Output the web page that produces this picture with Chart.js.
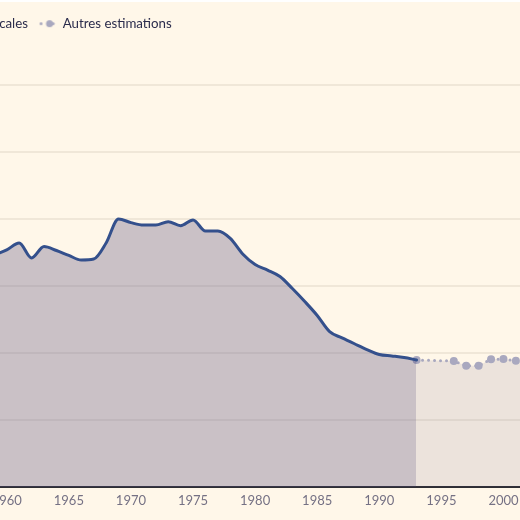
<!DOCTYPE html>
<html><head><meta charset="utf-8">
<script src="https://cdn.jsdelivr.net/npm/chart.js@4.4.1/dist/chart.umd.min.js"></script>
<style>
html,body{margin:0;padding:0;background:#fff;width:520px;height:520px;overflow:hidden}
#frame{position:absolute;left:0;top:2px;width:520px;height:518px;background:#fff7e9;overflow:hidden}
#wrap{position:absolute;top:0;height:518px}
</style></head><body>
<div id="frame"><div id="wrap"><canvas id="c"></canvas></div></div>
<script>
// ---- data ----
const YEARS_MAIN = [1959,1960,1961,1962,1963,1964,1965,1966,1967,1968,1969,1970,1971,1972,1973,1974,1975,1976,1977,1978,1979,1980,1981,1982,1983,1984,1985,1986,1987,1988,1989,1990,1991,1992,1993];
const SOURCES_FISCALES = [17.31,17.69,18.21,17.09,17.95,17.65,17.28,16.94,17.01,18.21,20.00,19.73,19.55,19.55,19.80,19.50,19.93,19.10,19.10,18.55,17.39,16.60,16.19,15.71,14.81,13.84,12.80,11.59,11.13,10.69,10.26,9.89,9.78,9.66,9.48];
const YEARS_OTHER = [1993,1994,1995,1996,1997,1998,1999,2000,2001,2002];
const AUTRES_ESTIMATIONS = [9.48,null,null,9.40,9.05,9.05,9.53,9.55,9.43,9.40];
const TICK_YEARS = [1960,1965,1970,1975,1980,1985,1990,1995,2000];
const Y_TICKS = [0,5,10,15,20,25,30];
const LABELS = ['Sources fiscales','Autres estimations'];

// ---- styling / layout ----
const FONT = 'Lato';
const LINE_BLUE = '#34508c';
const DOT = '#a9a8bf';

const mctx = document.createElement('canvas').getContext('2d');
mctx.font = '13.3px ' + FONT;
const tw1 = mctx.measureText(LABELS[0]).width;
const L = tw1 + 7;
const W = L + 560;
const wrap = document.getElementById('wrap');
wrap.style.left = (-L) + 'px';
wrap.style.width = W + 'px';

function mk(w,h,fn){const c=document.createElement('canvas');c.width=w;c.height=h;fn(c.getContext('2d'));return c;}
const icon1 = mk(18,9,g=>{g.strokeStyle=LINE_BLUE;g.lineWidth=3;g.lineCap='round';g.beginPath();g.moveTo(2,4.5);g.lineTo(16,4.5);g.stroke();});
const icon2 = mk(17,9,g=>{g.fillStyle=DOT;
  g.beginPath();g.arc(2.5,4.5,1.5,0,Math.PI*2);g.fill();
  g.beginPath();g.arc(11,4.5,3.5,0,Math.PI*2);g.fill();
  g.beginPath();g.arc(14.5,4.5,1.6,0,Math.PI*2);g.fill();});

const legendHeight = {
  id:'legendHeight',
  beforeLayout(chart){
    const lg = chart.legend;
    if(lg && !lg._patched){
      const f = lg.fit;
      lg.fit = function(){ f.call(this); this.height = 78; };
      lg._patched = true;
    }
  }
};

new Chart(document.getElementById('c'), {
  type:'line',
  data:{
    datasets:[
      {label:LABELS[0], data:YEARS_MAIN.map((x,i)=>({x,y:SOURCES_FISCALES[i]})),
       borderColor:LINE_BLUE, borderWidth:3, pointRadius:0, cubicInterpolationMode:'monotone',
       fill:'origin', backgroundColor:'rgba(80,70,120,0.30)', borderCapStyle:'round', borderJoinStyle:'round'},
      {label:LABELS[1], data:YEARS_OTHER.map((x,i)=>({x,y:AUTRES_ESTIMATIONS[i]})),
       borderColor:DOT, borderWidth:3, borderDash:[0,6], borderCapStyle:'round', spanGaps:true,
       pointRadius:4, pointBackgroundColor:DOT, pointBorderWidth:0, tension:0,
       fill:'origin', backgroundColor:'rgba(80,70,120,0.11)'}
    ]
  },
  options:{
    responsive:true, maintainAspectRatio:false, animation:false,
    layout:{padding:{left:0,right:32,top:5,bottom:0}},
    plugins:{
      legend:{display:true, position:'top', align:'start',
        labels:{usePointStyle:true, pointStyleWidth:18, padding:10, color:'#2b2c4c',
          font:{family:FONT,size:13.3},
          generateLabels(chart){
            const items = Chart.defaults.plugins.legend.labels.generateLabels(chart);
            items[0].pointStyle = icon1; items[1].pointStyle = icon2;
            return items;
          }}},
      tooltip:{enabled:false}
    },
    scales:{
      x:{type:'linear', min:1959, max:2002, z:1,
        afterBuildTicks(s){ s.ticks = TICK_YEARS.map(v=>({value:v})); },
        afterFit(s){ s.height = 33; },
        grid:{display:false},
        border:{display:true, color:'#2e2e33', width:2},
        ticks:{padding:-2, color:'#757184', font:{family:FONT,size:13}, maxRotation:0, autoSkip:false,
          callback:v=>String(v)}},
      y:{min:0, max:30,
        afterBuildTicks(s){ s.ticks = Y_TICKS.map(v=>({value:v})); },
        afterFit(s){ s.width = L - 6; },
        grid:{color:c=>c.tick && c.tick.value===0 ? 'rgba(0,0,0,0)' : 'rgba(70,50,20,0.08)', lineWidth:2, drawTicks:false},
        border:{display:false},
        ticks:{display:false}}
    }
  },
  plugins:[legendHeight]
});
</script>
</body></html>
